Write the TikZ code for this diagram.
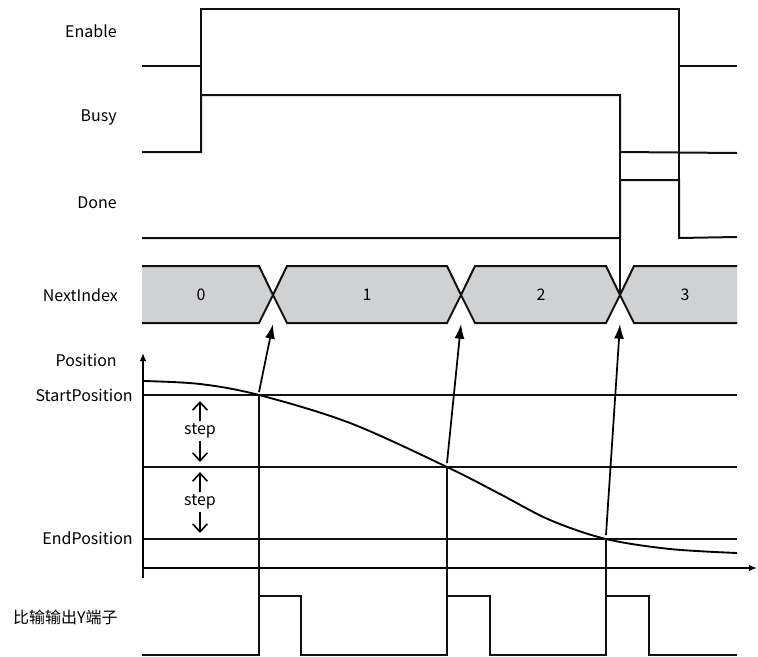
\documentclass[tikz,border=0pt]{standalone}
\usepackage{fontspec}
\setmainfont{Noto Sans CJK SC}
\usepackage{tikz}
\usetikzlibrary{arrows.meta,positioning,calc}
\definecolor{BusGray}{HTML}{D0D1D3}
\definecolor{WaveInk}{HTML}{111111}

\begin{document}
\begin{tikzpicture}[
x=0.75pt,y=-0.75pt,
lbl/.style={anchor=east,inner sep=0pt,font=\fontsize{12}{14}\selectfont},
val/.style={inner sep=0pt,font=\fontsize{12}{14}\selectfont},
wave/.style={line width=1.5pt,draw=WaveInk,line join=miter},
guide/.style={line width=1.2pt,draw=WaveInk},
bus/.style={line width=1.5pt,draw=WaveInk,line join=miter},
axis/.style={line width=1.2pt,-{Latex[length=6pt,width=5pt]}},
ptr/.style={line width=1.3pt,-{Latex[length=11pt,width=7.5pt]}},
stepar/.style={line width=1.2pt,-{Straight Barb[length=6pt,width=11pt]}}
]
\useasboundingbox (0,0) rectangle (758,657);

\node[lbl] (enable) at (117,31) {Enable};
\node[lbl] (busy) at (117,118) {Busy};
\node[lbl] (done) at (117,203) {Done};
\node[lbl] (nextidx) at (118,295) {NextIndex};
\node[lbl] (pos) at (117,360) {Position};
\node[lbl] (startpos) at (133,395) {StartPosition};
\node[lbl] (endpos) at (133,538) {EndPosition};
\node[lbl] (yout) at (118,617) {比输输出Y端子};

\draw[wave] (142,66) -- (201,66) -- (201,9) -- (679,9) -- (679,66) -- (737,66);
\draw[wave] (142,152) -- (201,152) -- (201,95) -- (620,95) -- (620,152) -- (737,153);
\draw[wave] (142,238) -- (620,238) -- (620,180) -- (679,180) -- (679,238) -- (737,237);
\draw[guide] (201,66) -- (201,95);
\draw[guide] (679,66) -- (679,180);
\draw[guide] (620,152) -- (620,180);

\coordinate (x0) at (273,295);
\coordinate (x1) at (461,295);
\coordinate (x2) at (620,295);
\fill[BusGray] (142,266) -- (259,266) -- (x0) -- (259,323) -- (142,323) -- cycle;
\draw[bus] (142,266) -- (259,266) -- (x0) -- (259,323) -- (142,323);
\draw[bus,fill=BusGray] (x0) -- (287,266) -- (447,266) -- (x1) -- (447,323) -- (287,323) -- cycle;
\draw[bus,fill=BusGray] (x1) -- (475,266) -- (606,266) -- (x2) -- (606,323) -- (475,323) -- cycle;
\fill[BusGray] (x2) -- (634,266) -- (737,266) -- (737,323) -- (634,323) -- cycle;
\draw[bus] (737,266) -- (634,266) -- (x2) -- (634,323) -- (737,323);
\draw[guide] (620,238) -- (x2);
\node[val] (idx0) at (201,295) {0};
\node[val] (idx1) at (367,295) {1};
\node[val] (idx2) at (541,295) {2};
\node[val] (idx3) at (685,295) {3};

\coordinate (origin) at (143,568);
\coordinate (ytip) at (143,353);
\coordinate (xtip) at (757,568);
\draw[axis] (origin) -- (ytip);
\draw[axis] (origin) -- (xtip);
\draw[guide] (143,568) -- (143,578);

\coordinate (p1) at (259,395);
\coordinate (p2) at (447,467);
\coordinate (p3) at (606,539);
\draw[guide] (143,395) -- (737,395);
\draw[guide] (143,467) -- (737,467);
\draw[guide] (143,539) -- (737,539);
\draw[line width=1.4pt] plot[smooth,tension=0.55] coordinates
  {(143,381) (200,384) (p1) (350,423) (p2) (500,494) (550,520) (p3) (670,549) (737,553)};

\draw[guide] (p1) -- (259,596);
\draw[guide] (p2) -- (447,596);
\draw[guide] (p3) -- (606,596);
\draw[wave] (142,655) -- (259,655) -- (259,596) -- (301,596) -- (301,655)
  -- (447,655) -- (447,596) -- (490,596) -- (490,655)
  -- (606,655) -- (606,596) -- (649,596) -- (649,655) -- (737,655);

\draw[ptr] (259,392) -- (x0 |- 0,324);
\draw[ptr] (447,463) -- (x1 |- 0,324);
\draw[ptr] (606,535) -- (x2 |- 0,324);

\node[val] (stepA) at (200,431) {step};
\node[val] (stepB) at (200,502) {step};
\coordinate (sA1) at (200,401);
\coordinate (sA2) at (200,462);
\coordinate (sB1) at (200,472);
\coordinate (sB2) at (200,533);
\draw[stepar] ($(stepA.north)+(0,-2)$) -- (sA1);
\draw[stepar] ($(stepA.south)+(0,2)$) -- (sA2);
\draw[stepar] ($(stepB.north)+(0,-2)$) -- (sB1);
\draw[stepar] ($(stepB.south)+(0,2)$) -- (sB2);
\end{tikzpicture}
\end{document}
